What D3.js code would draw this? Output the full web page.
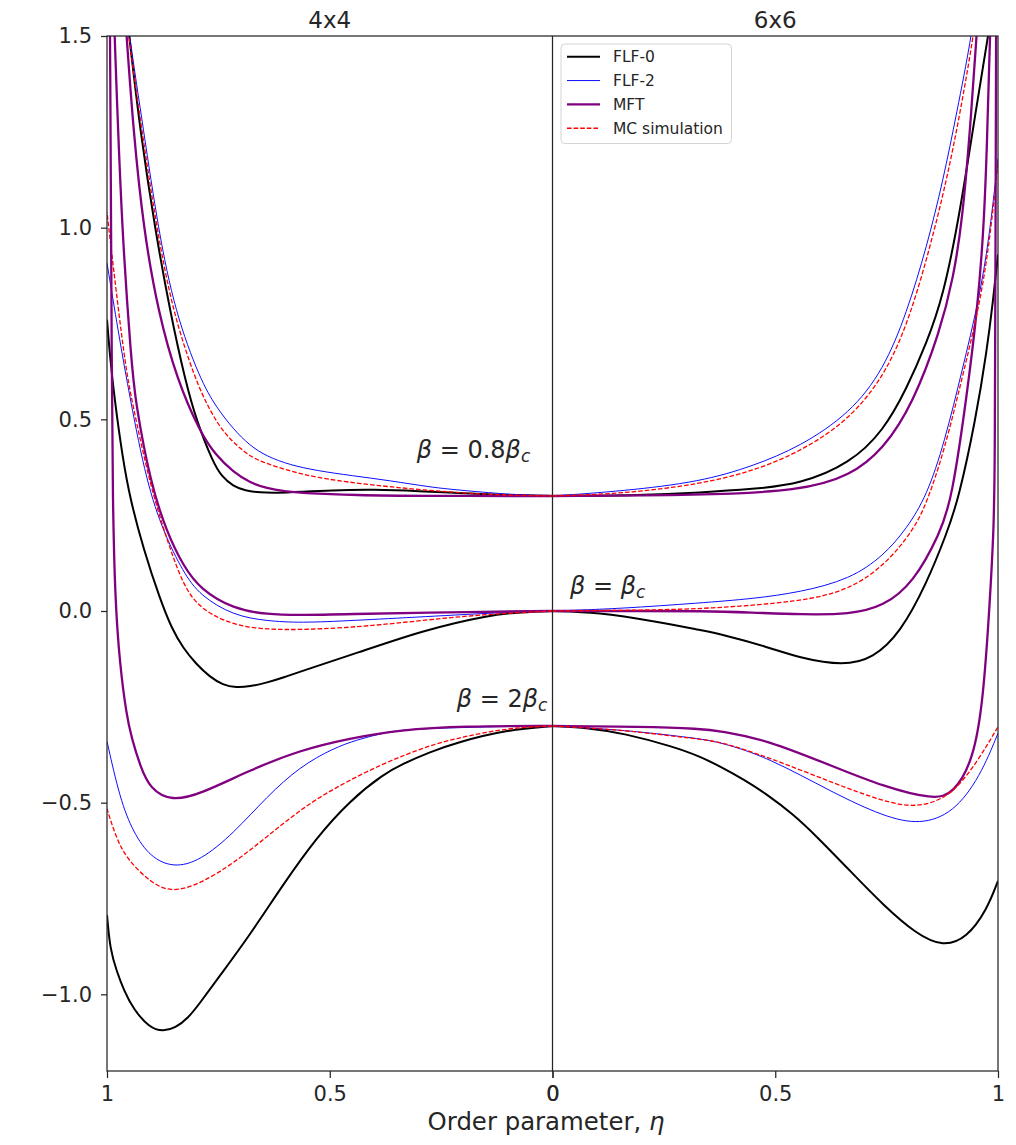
<!DOCTYPE html>
<html><head><meta charset="utf-8">
<script src="https://cdn.jsdelivr.net/npm/d3@7"></script>
<style>body{margin:0;background:#fff;} svg{display:block;font-family:"DejaVu Sans",sans-serif;} text{white-space:pre;}</style>
</head><body><svg id="c" width="1016" height="1145"></svg>
<script>
// ---------------- data: [eta, value] ----------------
// 4x4 lattice, beta = 0.8 beta_c
const L_b08_flf0 = [[0,0.300],[0.1,0.302],[0.2,0.307],[0.3,0.313],[0.4,0.317],[0.5,0.315],[0.566,0.311],[0.62,0.308],[0.656,0.309],[0.69,0.314],[0.717,0.326],[0.742,0.35],[0.762,0.388],[0.798,0.492],[0.825,0.604],[0.858,0.779],[0.892,0.995],[0.926,1.255],[0.950,1.5],[0.965,1.65]];
const L_b08_flf2 = [[0,0.300],[0.1,0.304],[0.215,0.316],[0.274,0.323],[0.364,0.340],[0.45,0.353],[0.529,0.366],[0.589,0.381],[0.641,0.403],[0.68,0.432],[0.716,0.474],[0.755,0.532],[0.791,0.604],[0.847,0.779],[0.885,0.995],[0.918,1.255],[0.950,1.5],[0.965,1.65]];
const L_b08_mft  = [[0,0.300],[0.3,0.300],[0.44,0.302],[0.566,0.308],[0.60,0.312],[0.641,0.320],[0.68,0.335],[0.716,0.362],[0.755,0.405],[0.791,0.466],[0.843,0.604],[0.885,0.779],[0.918,0.995],[0.941,1.255],[0.956,1.5],[0.965,1.65]];
const L_b08_mc   = [[0,0.300],[0.14,0.303],[0.29,0.315],[0.44,0.333],[0.53,0.348],[0.589,0.365],[0.664,0.392],[0.70,0.422],[0.739,0.466],[0.77,0.525],[0.802,0.604],[0.852,0.779],[0.888,0.995],[0.922,1.255],[0.952,1.5],[0.965,1.65]];
// 4x4, beta = beta_c
const L_b1_flf0 = [[0,0],[0.07,-0.003],[0.14,-0.010],[0.29,-0.050],[0.44,-0.110],[0.566,-0.158],[0.60,-0.172],[0.641,-0.187],[0.68,-0.197],[0.71,-0.200],[0.74,-0.193],[0.769,-0.172],[0.80,-0.138],[0.829,-0.097],[0.855,-0.045],[0.881,0.031],[0.918,0.161],[0.948,0.292],[0.965,0.40],[0.983,0.552],[0.993,0.66],[1.0,0.76]];
const L_b1_flf2 = [[0,0],[0.1,-0.003],[0.29,-0.015],[0.45,-0.025],[0.566,-0.031],[0.641,-0.026],[0.716,-0.012],[0.791,0.040],[0.829,0.101],[0.873,0.205],[0.911,0.335],[0.948,0.552],[0.975,0.73],[1.0,0.908]];
const L_b1_mft  = [[0,0],[0.3,-0.004],[0.45,-0.008],[0.566,-0.011],[0.641,-0.009],[0.716,0.005],[0.791,0.057],[0.829,0.118],[0.866,0.206],[0.903,0.336],[0.937,0.552],[0.945,0.648],[0.967,0.995],[0.983,1.5],[0.99,1.75]];
const L_b1_mc   = [[0,0],[0.178,-0.010],[0.364,-0.034],[0.47,-0.044],[0.566,-0.049],[0.641,-0.048],[0.716,-0.038],[0.791,0.005],[0.829,0.066],[0.866,0.188],[0.903,0.326],[0.945,0.552],[0.960,0.648],[0.987,0.908],[1.0,1.04]];
// 4x4, beta = 2 beta_c
const L_b2_flf0 = [[0,-0.30],[0.103,-0.31],[0.215,-0.343],[0.275,-0.368],[0.335,-0.398],[0.38,-0.426],[0.455,-0.495],[0.529,-0.590],[0.604,-0.712],[0.679,-0.845],[0.754,-0.963],[0.791,-1.022],[0.817,-1.061],[0.847,-1.088],[0.874,-1.097],[0.905,-1.087],[0.941,-1.038],[0.962,-0.99],[0.978,-0.94],[0.993,-0.884],[1.0,-0.793]];
const L_b2_flf2 = [[0,-0.30],[0.1,-0.301],[0.2,-0.304],[0.327,-0.308],[0.38,-0.318],[0.439,-0.336],[0.492,-0.358],[0.567,-0.406],[0.641,-0.484],[0.716,-0.580],[0.791,-0.652],[0.851,-0.670],[0.903,-0.642],[0.941,-0.578],[0.971,-0.490],[1.0,-0.340]];
const L_b2_mft  = [[0,-0.30],[0.2,-0.300],[0.342,-0.310],[0.455,-0.332],[0.567,-0.363],[0.679,-0.415],[0.791,-0.478],[0.855,-0.496],[0.903,-0.465],[0.926,-0.403],[0.945,-0.33],[0.956,-0.273],[0.971,-0.142],[0.982,0.031],[0.987,0.292],[0.989,0.552],[0.993,1.5],[0.995,1.8]];
const L_b2_mc   = [[0,-0.30],[0.07,-0.303],[0.14,-0.314],[0.21,-0.331],[0.275,-0.350],[0.38,-0.397],[0.492,-0.463],[0.567,-0.519],[0.641,-0.589],[0.716,-0.658],[0.791,-0.712],[0.855,-0.735],[0.903,-0.708],[0.956,-0.646],[0.98,-0.59],[1.0,-0.516]];
// 6x6 lattice, beta = 0.8 beta_c
const R_b08_flf0 = [[0,0.300],[0.2,0.302],[0.332,0.309],[0.45,0.318],[0.556,0.331],[0.668,0.385],[0.743,0.470],[0.795,0.580],[0.840,0.70],[0.877,0.82],[0.915,1.04],[0.952,1.32],[0.978,1.5],[0.99,1.6]];
const R_b08_flf2 = [[0,0.300],[0.16,0.313],[0.332,0.337],[0.45,0.378],[0.556,0.429],[0.668,0.516],[0.743,0.629],[0.795,0.777],[0.840,0.950],[0.877,1.124],[0.907,1.298],[0.941,1.5],[0.95,1.6]];
const R_b08_mft  = [[0,0.300],[0.332,0.302],[0.556,0.313],[0.668,0.352],[0.743,0.422],[0.810,0.543],[0.870,0.73],[0.900,0.87],[0.920,1.02],[0.937,1.25],[0.952,1.5],[0.96,1.65]];
const R_b08_mc   = [[0,0.300],[0.16,0.306],[0.332,0.331],[0.45,0.365],[0.556,0.415],[0.668,0.50],[0.750,0.622],[0.803,0.769],[0.848,0.951],[0.885,1.125],[0.915,1.299],[0.945,1.5],[0.955,1.6]];
// 6x6, beta = beta_c
const R_b1_flf0 = [[0,0],[0.1,-0.003],[0.235,-0.028],[0.332,-0.050],[0.377,-0.060],[0.481,-0.093],[0.556,-0.123],[0.653,-0.143],[0.720,-0.123],[0.780,-0.058],[0.840,0.072],[0.885,0.203],[0.911,0.290],[0.95,0.50],[0.975,0.68],[0.989,0.81],[1.0,0.93]];
const R_b1_flf2 = [[0,0],[0.15,0.006],[0.332,0.021],[0.45,0.032],[0.556,0.049],[0.668,0.083],[0.743,0.144],[0.795,0.215],[0.840,0.300],[0.88,0.44],[0.92,0.63],[0.957,0.81],[0.98,0.97],[1.0,1.18]];
const R_b1_mft  = [[0,0],[0.2,0.0],[0.332,0.0],[0.45,-0.004],[0.556,-0.009],[0.668,-0.009],[0.743,0.012],[0.810,0.073],[0.870,0.203],[0.896,0.290],[0.93,0.56],[0.955,0.80],[0.968,1.0],[0.975,1.2],[0.982,1.5],[0.99,1.8]];
const R_b1_mc   = [[0,0],[0.2,0.002],[0.35,0.006],[0.556,0.024],[0.668,0.055],[0.750,0.124],[0.810,0.211],[0.840,0.281],[0.88,0.42],[0.92,0.61],[0.957,0.79],[0.98,0.95],[1.0,1.17]];
// 6x6, beta = 2 beta_c
const R_b2_flf0 = [[0,-0.30],[0.08,-0.305],[0.16,-0.319],[0.272,-0.354],[0.332,-0.380],[0.377,-0.406],[0.43,-0.440],[0.481,-0.478],[0.54,-0.530],[0.593,-0.588],[0.668,-0.678],[0.743,-0.768],[0.817,-0.843],[0.877,-0.876],[0.930,-0.853],[0.975,-0.780],[1.0,-0.704]];
const R_b2_flf2 = [[0,-0.30],[0.16,-0.31],[0.332,-0.333],[0.377,-0.343],[0.481,-0.380],[0.631,-0.475],[0.743,-0.536],[0.825,-0.558],[0.900,-0.527],[0.960,-0.432],[1.0,-0.319]];
const R_b2_mft  = [[0,-0.30],[0.2,-0.302],[0.332,-0.307],[0.377,-0.313],[0.481,-0.336],[0.631,-0.406],[0.743,-0.458],[0.855,-0.492],[0.900,-0.477],[0.945,-0.388],[0.967,-0.232],[0.982,0.029],[0.990,0.203],[0.993,0.35],[0.9945,1.0],[0.996,1.6]];
const R_b2_mc   = [[0,-0.30],[0.16,-0.31],[0.332,-0.335],[0.377,-0.341],[0.481,-0.380],[0.631,-0.449],[0.743,-0.497],[0.817,-0.514],[0.892,-0.486],[0.952,-0.397],[1.0,-0.302]];

const panelTitles = ["4x4", "6x6"];
const models = ["FLF-0", "FLF-2", "MFT", "MC simulation"];
const yDomain = [-1.2, 1.5];
const yTicks = [-1.0, -0.5, 0.0, 0.5, 1.0, 1.5];
const xTickVals = [0, 0.5, 1];
const xTickLabels = ["0", "0.5", "1"];
const betaLabels = ["0.8", "", "2"];

// ---------------- drawing ----------------
const svg = d3.select("#c");
const X0 = 107, XM = 552.5, X1 = 998, Y0 = 36, Y1 = 1071;
const INK = "#262626";
const y  = d3.scaleLinear().domain(yDomain).range([Y1, Y0]);
const xL = d3.scaleLinear().domain([1, 0]).range([X0, XM]);
const xR = d3.scaleLinear().domain([0, 1]).range([XM, X1]);

const style = {
  "FLF-0": {color: "#000000", width: 2.0, dash: null},
  "FLF-2": {color: "#0000ff", width: 0.95, dash: null},
  "MFT": {color: "#800080", width: 2.3, dash: null},
  "MC simulation": {color: "#ff0000", width: 1.3, dash: "4.6,2"}
};

const defs = svg.append("defs");
defs.append("clipPath").attr("id", "clipL").append("rect").attr("x", X0).attr("y", Y0).attr("width", XM - X0).attr("height", Y1 - Y0);
defs.append("clipPath").attr("id", "clipR").append("rect").attr("x", XM).attr("y", Y0).attr("width", X1 - XM).attr("height", Y1 - Y0);

const panels = [
  {x: xL, clip: "clipL", groups: [
    [L_b08_flf0, L_b08_flf2, L_b08_mft, L_b08_mc],
    [L_b1_flf0, L_b1_flf2, L_b1_mft, L_b1_mc],
    [L_b2_flf0, L_b2_flf2, L_b2_mft, L_b2_mc]]},
  {x: xR, clip: "clipR", groups: [
    [R_b08_flf0, R_b08_flf2, R_b08_mft, R_b08_mc],
    [R_b1_flf0, R_b1_flf2, R_b1_mft, R_b1_mc],
    [R_b2_flf0, R_b2_flf2, R_b2_mft, R_b2_mc]]}
];

panels.forEach(p => {
  const g = svg.append("g").attr("clip-path", `url(#${p.clip})`);
  const line = d3.line().x(d => p.x(d[0])).y(d => y(d[1])).curve(d3.curveBasis);
  p.groups.forEach(grp => {
    grp.forEach((data, mi) => {
      const s = style[models[mi]];
      g.append("path").attr("d", line(data)).attr("fill", "none")
        .attr("stroke", s.color).attr("stroke-width", s.width)
        .attr("stroke-dasharray", s.dash).attr("stroke-linejoin", "round");
    });
  });
});

// axes
const yAxis = d3.axisLeft(y).tickValues(yTicks).tickFormat(d3.format(".1f")).tickSizeInner(6).tickSizeOuter(0).tickPadding(9);
svg.append("g").attr("transform", `translate(${X0},0)`).call(yAxis);
[xL, xR].forEach(sc => {
  const ax = d3.axisBottom(sc).tickValues(xTickVals).tickFormat((d, i) => xTickLabels[i]).tickSizeInner(7).tickSizeOuter(0).tickPadding(8);
  svg.append("g").attr("transform", `translate(0,${Y1})`).call(ax);
});
svg.selectAll(".domain").remove();
svg.selectAll(".tick line").attr("stroke", INK).attr("stroke-width", 1.25);
svg.selectAll(".tick text").attr("fill", INK).attr("font-size", 21).attr("font-family", "DejaVu Sans");

// spines
const sp = svg.append("g").attr("stroke", INK).attr("stroke-width", 1.25).attr("fill", "none");
sp.append("rect").attr("x", X0).attr("y", Y0).attr("width", X1 - X0).attr("height", Y1 - Y0);
sp.append("line").attr("x1", XM).attr("x2", XM).attr("y1", Y0).attr("y2", Y1);

// titles
panelTitles.forEach((t, i) => {
  const cx = i === 0 ? (X0 + XM) / 2 : (XM + X1) / 2;
  svg.append("text").attr("x", cx).attr("y", 28).attr("text-anchor", "middle")
    .attr("font-size", 23).attr("fill", INK).text(t);
});

// x label
const xl = svg.append("text").attr("x", 546).attr("y", 1130).attr("text-anchor", "middle")
  .attr("font-size", 24.4).attr("fill", INK);
xl.append("tspan").text("Order parameter, ");
xl.append("tspan").attr("font-style", "italic").text("η");

// beta annotations
const annPos = [[416.7, 458], [570, 594], [456.7, 707]];
betaLabels.forEach((b, i) => {
  const t = svg.append("text").attr("x", annPos[i][0]).attr("y", annPos[i][1])
    .attr("font-size", 24).attr("fill", INK);
  t.append("tspan").attr("font-style", "italic").text("β");
  t.append("tspan").text(" = " + b);
  t.append("tspan").attr("font-style", "italic").text("β");
  t.append("tspan").attr("font-style", "italic").attr("font-size", 17).attr("dy", 4).text("c");
});

// legend
const lg = svg.append("g").attr("transform", "translate(561,44)");
lg.append("rect").attr("width", 170.5).attr("height", 99.5).attr("rx", 4)
  .attr("fill", "#ffffff").attr("fill-opacity", 0.8).attr("stroke", "#d4d4d4").attr("stroke-width", 1);
models.forEach((m, i) => {
  const s = style[m];
  const yy = 12.7 + i * 23.85;
  lg.append("line").attr("x1", 6).attr("x2", 39).attr("y1", yy).attr("y2", yy)
    .attr("stroke", s.color).attr("stroke-width", s.width).attr("stroke-dasharray", s.dash);
  lg.append("text").attr("x", 52).attr("y", yy).attr("dy", "0.36em")
    .attr("font-size", 15.5).attr("fill", INK).text(m);
});
</script>
</body></html>
